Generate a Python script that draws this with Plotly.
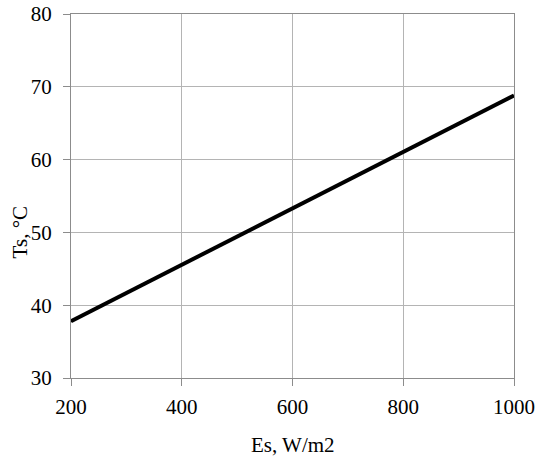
import plotly.graph_objects as go

es_values = [200, 400, 600, 800, 1000]
ts_values = [37.8, 45.55, 53.3, 61.05, 68.8]
x_ticks = [200, 400, 600, 800, 1000]
y_ticks = [30, 40, 50, 60, 70, 80]

font_family = "Liberation Serif, Times New Roman, serif"

fig = go.Figure()
fig.add_trace(go.Scatter(
    x=es_values, y=ts_values, mode="lines",
    line=dict(color="black", width=4),
    showlegend=False,
))

axis_common = dict(
    showgrid=True, gridcolor="#b4b4b4", gridwidth=1,
    showline=True, linecolor="#8c8c8c", linewidth=1, mirror=True,
    ticks="outside", ticklen=7, tickcolor="#8c8c8c", tickwidth=1,
    tickfont=dict(family=font_family, size=21, color="black"),
    zeroline=False, automargin=False,
)

fig.update_layout(
    width=536, height=461,
    margin=dict(l=71, r=22, t=14, b=83),
    paper_bgcolor="white", plot_bgcolor="white",
    xaxis=dict(range=[200, 1000], tickvals=x_ticks, ticklabelstandoff=3, **axis_common),
    yaxis=dict(range=[30, 80], tickvals=y_ticks, ticklabelstandoff=7, **axis_common),
    font=dict(family=font_family, color="black"),
)

fig.add_annotation(
    text="Es, W/m2", xref="paper", yref="paper", x=0.5, y=0,
    xanchor="center", yanchor="middle",
    yshift=-67, showarrow=False, font=dict(family=font_family, size=21, color="black"),
)
fig.add_annotation(
    text="Ts, °C", xref="paper", yref="paper", x=0, y=0.40,
    xanchor="center", yanchor="middle",
    xshift=-51, textangle=-90, showarrow=False,
    font=dict(family=font_family, size=21, color="black"),
)

fig.write_html("out.html", config={"displayModeBar": False},
               post_script="document.body.style.margin='0';")
